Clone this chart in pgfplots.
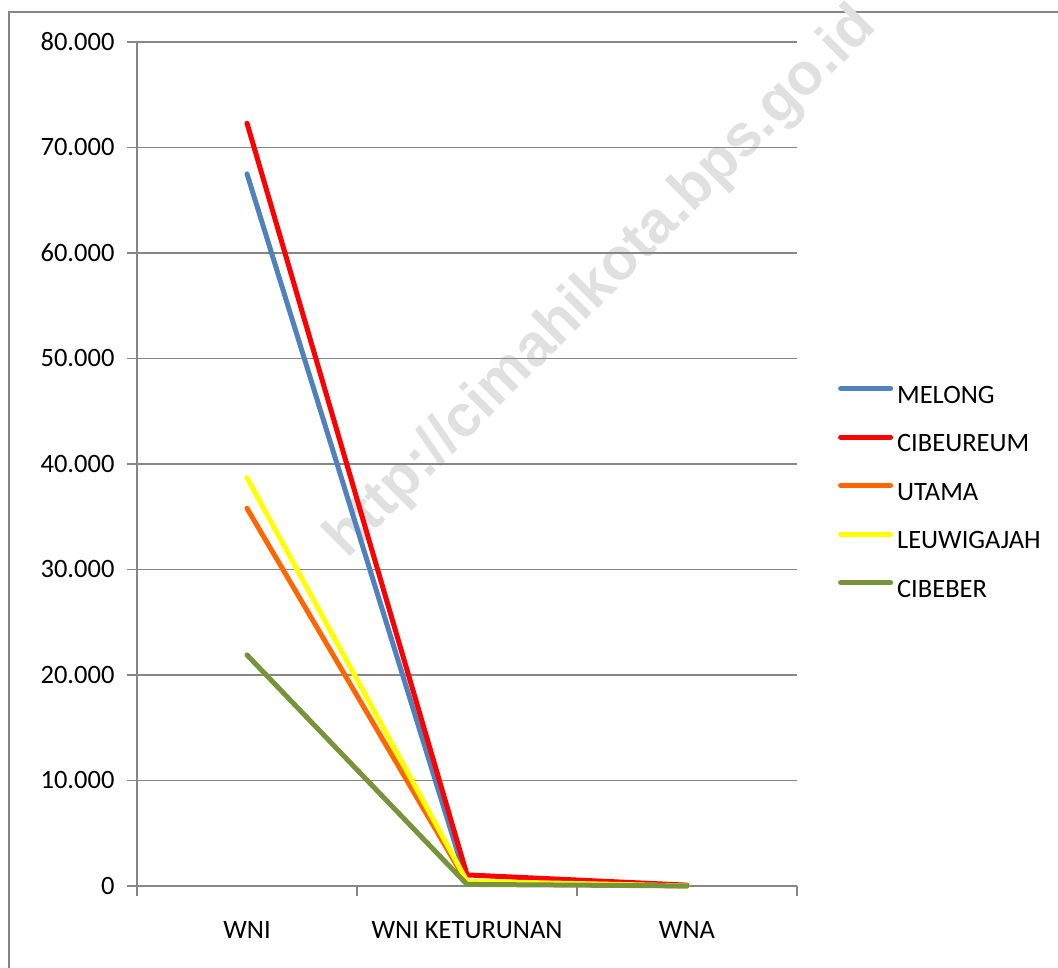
\documentclass[border=0pt]{standalone}
\usepackage{pgfplots}
\pgfplotsset{compat=1.18}
\usepackage{fontspec}
\setmainfont{Carlito}
\newfontfamily\wmfont{Liberation Sans}
\definecolor{cmelong}{RGB}{79,129,189}
\definecolor{ccibeureum}{RGB}{255,0,0}
\definecolor{cutama}{RGB}{255,102,0}
\definecolor{cleuwi}{RGB}{255,255,0}
\definecolor{ccibeber}{RGB}{119,147,60}
\definecolor{gridgray}{RGB}{134,134,134}
\begin{document}
\begin{tikzpicture}[x=1pt,y=1pt]
\path[use as bounding box] (0,0) rectangle (1058,967);
\draw[gridgray, line width=2pt] (9,-5) -- (9,955) -- (1070,955);
\node[rotate=45, text=black!12, font=\wmfont\bfseries\fontsize{59}{62}\selectfont] at (602,684) {http://cimahikota.bps.go.id};
\begin{axis}[
  at={(137pt,81pt)}, anchor=south west,
  scale only axis, width=660pt, height=844pt,
  clip=false,
  xmin=-0.5, xmax=2.5, ymin=0, ymax=80000,
  scaled y ticks=false,
  axis x line*=bottom, axis y line*=left,
  axis line style={-, gridgray, line width=1.5pt},
  ytick={0,10000,20000,30000,40000,50000,60000,70000,80000},
  yticklabels={0,10.000,20.000,30.000,40.000,50.000,60.000,70.000,80.000},
  ymajorgrids, grid style={gridgray, line width=1.5pt},
  xtick={-0.5,0.5,1.5,2.5}, xticklabels={},
  extra x ticks={0,1,2},
  extra x tick labels={WNI, WNI KETURUNAN, WNA},
  extra x tick style={major tick length=0pt, grid=none, xticklabel style={yshift=-32pt}},
  tick align=outside, major tick length=10pt,
  tick style={gridgray, line width=1.5pt},
  ticklabel style={font=\fontsize{26.5}{30}\selectfont, text=black},
  yticklabel style={xshift=-9pt},
  legend style={at={(1.062,0.595)}, anchor=north west, draw=none, fill=none,
    font=\fontsize{26.5}{30}\selectfont, row sep=23.5pt, column sep=4pt,
    inner sep=0pt, nodes={inner sep=0pt, text height=19pt, text depth=6pt}},
  legend cell align=left,
  legend image code/.code={\draw[#1, line width=5pt, line cap=round] (0pt,8pt) -- (50pt,8pt);},
  every axis plot/.append style={line width=5pt, line join=round, line cap=round, no markers},
]
\addplot[cmelong] coordinates {(0,67500) (1,350) (2,10)};
\addlegendentry{MELONG}
\addplot[ccibeureum] coordinates {(0,72300) (1,1050) (2,80)};
\addlegendentry{CIBEUREUM}
\addplot[cutama] coordinates {(0,35800) (1,300) (2,10)};
\addlegendentry{UTAMA}
\addplot[cleuwi] coordinates {(0,38700) (1,450) (2,10)};
\addlegendentry{LEUWIGAJAH}
\addplot[ccibeber] coordinates {(0,21900) (1,150) (2,10)};
\addlegendentry{CIBEBER}
\end{axis}
\end{tikzpicture}
\end{document}
